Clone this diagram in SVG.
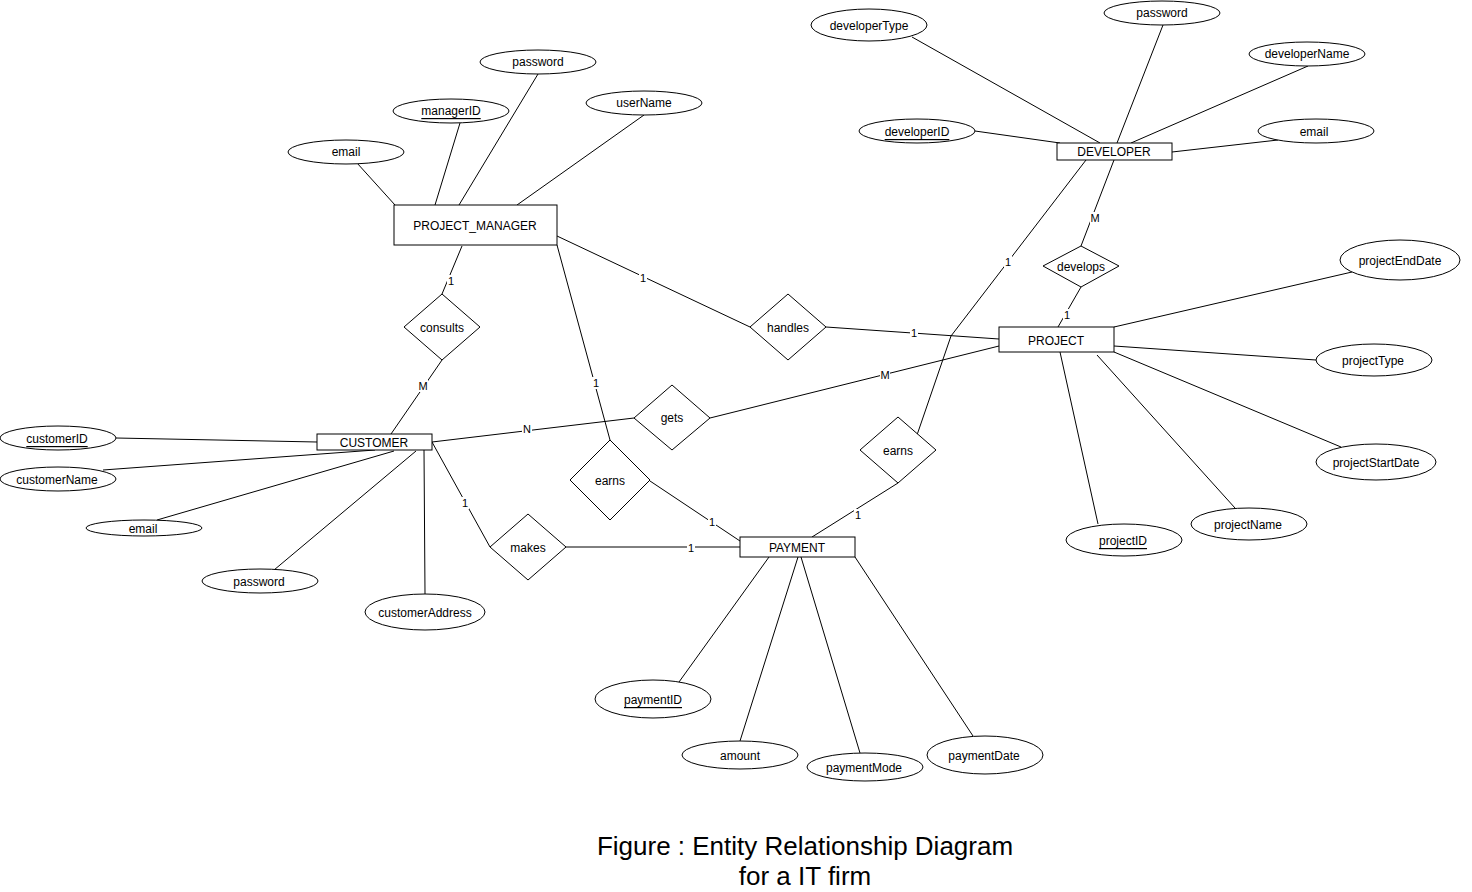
<svg xmlns="http://www.w3.org/2000/svg" width="1472" height="892" viewBox="0 0 1472 892">
<style>
text{font-family:"Liberation Sans",Arial,sans-serif;font-size:12px;fill:#000;text-anchor:middle;dominant-baseline:central}
.e rect,.e ellipse,.r polygon{fill:#fff;stroke:#000;stroke-width:1}
.c line,.c polyline{stroke:#000;stroke-width:1;fill:none}
.c rect{fill:#fff;stroke:none}
.lbl{font-size:11px}
.u{text-decoration:underline}
.cap{font-size:26px}
</style>
<rect width="1472" height="892" fill="#fff"/>
<g id="connectors" class="c">
<line x1="357" y1="163" x2="395" y2="205"/>
<line x1="460" y1="123" x2="435" y2="205"/>
<line x1="538" y1="74" x2="459" y2="205"/>
<line x1="644" y1="115" x2="517" y2="205"/>
<line x1="912" y1="37" x2="1100" y2="143"/>
<line x1="1163" y1="25" x2="1117" y2="143"/>
<line x1="1308" y1="66" x2="1131" y2="143"/>
<line x1="975" y1="131" x2="1060" y2="143"/>
<line x1="1278" y1="140" x2="1172" y2="152"/>
<line x1="1352" y1="272" x2="1114" y2="327"/>
<line x1="1316" y1="360" x2="1114" y2="346"/>
<line x1="1341" y1="447" x2="1114" y2="352"/>
<line x1="1235" y1="508" x2="1097" y2="355"/>
<line x1="1098" y1="524" x2="1060" y2="352"/>
<line x1="116" y1="438" x2="317" y2="442"/>
<line x1="103" y1="470" x2="375" y2="450"/>
<line x1="157" y1="520" x2="394" y2="451"/>
<line x1="274" y1="570" x2="416" y2="451"/>
<line x1="425" y1="594" x2="424" y2="450"/>
<line x1="679" y1="682" x2="769" y2="557"/>
<line x1="740" y1="741" x2="798" y2="557"/>
<line x1="860" y1="753" x2="801" y2="557"/>
<line x1="973" y1="736" x2="855" y2="557"/>
<line x1="462" y1="246" x2="442" y2="294"/>
<line x1="442" y1="360" x2="391" y2="434"/>
<line x1="557" y1="236" x2="750" y2="327"/>
<line x1="826" y1="327" x2="999" y2="339"/>
<line x1="557" y1="245" x2="610" y2="440"/>
<line x1="650" y1="481" x2="740" y2="541"/>
<line x1="432" y1="442" x2="634" y2="418"/>
<line x1="710" y1="418" x2="999" y2="346"/>
<line x1="432" y1="442" x2="490" y2="547"/>
<line x1="566" y1="547" x2="740" y2="547"/>
<line x1="1114" y1="160" x2="1081" y2="246"/>
<line x1="1081" y1="287" x2="1058" y2="327"/>
<polyline points="1086,160 951,336 917,435"/>
<line x1="898" y1="483" x2="812" y2="537"/>
<rect x="447" y="275" width="8" height="12"/><text class="lbl" x="451" y="281">1</text>
<rect x="418" y="380" width="10" height="12"/><text class="lbl" x="423" y="386">M</text>
<rect x="639" y="272" width="8" height="12"/><text class="lbl" x="643" y="278">1</text>
<rect x="910" y="327" width="8" height="12"/><text class="lbl" x="914" y="333">1</text>
<rect x="592" y="377" width="8" height="12"/><text class="lbl" x="596" y="383">1</text>
<rect x="708" y="516" width="8" height="12"/><text class="lbl" x="712" y="522">1</text>
<rect x="522" y="423" width="10" height="12"/><text class="lbl" x="527" y="429">N</text>
<rect x="880" y="369" width="10" height="12"/><text class="lbl" x="885" y="375">M</text>
<rect x="461" y="497" width="8" height="12"/><text class="lbl" x="465" y="503">1</text>
<rect x="687" y="542" width="8" height="12"/><text class="lbl" x="691" y="548">1</text>
<rect x="1090" y="212" width="10" height="12"/><text class="lbl" x="1095" y="218">M</text>
<rect x="1063" y="309" width="8" height="12"/><text class="lbl" x="1067" y="315">1</text>
<rect x="1004" y="256" width="8" height="12"/><text class="lbl" x="1008" y="262">1</text>
<rect x="854" y="509" width="8" height="12"/><text class="lbl" x="858" y="515">1</text>
</g>
<g id="project_manager" class="e"><rect x="394" y="205" width="163" height="40"/><text x="475" y="226">PROJECT_MANAGER</text></g>
<g id="developer" class="e"><rect x="1057" y="143" width="115" height="17"/><text x="1114" y="152">DEVELOPER</text></g>
<g id="customer" class="e"><rect x="317" y="434" width="115" height="16"/><text x="374" y="443">CUSTOMER</text></g>
<g id="project" class="e"><rect x="999" y="327" width="115" height="25"/><text x="1056" y="341">PROJECT</text></g>
<g id="payment" class="e"><rect x="740" y="537" width="115" height="20"/><text x="797" y="548">PAYMENT</text></g>
<g id="consults" class="r"><polygon points="442,294 480,327 442,360 404,327"/><text x="442" y="328">consults</text></g>
<g id="handles" class="r"><polygon points="788,294 826,327 788,360 750,327"/><text x="788" y="328">handles</text></g>
<g id="gets" class="r"><polygon points="672,385 710,418 672,450 634,418"/><text x="672" y="418">gets</text></g>
<g id="earns1" class="r"><polygon points="610,440 650,480 610,520 570,480"/><text x="610" y="481">earns</text></g>
<g id="earns2" class="r"><polygon points="898,417 936,450 898,483 860,450"/><text x="898" y="451">earns</text></g>
<g id="develops" class="r"><polygon points="1081,246 1119,266 1081,287 1043,266"/><text x="1081" y="267">develops</text></g>
<g id="makes" class="r"><polygon points="528,514 566,547 528,580 490,547"/><text x="528" y="548">makes</text></g>
<g id="pm_password" class="e"><ellipse cx="538" cy="62" rx="58" ry="12"/><text x="538" y="62">password</text></g>
<g id="pm_managerID" class="e"><ellipse cx="451" cy="111" rx="58" ry="12"/><text class="u" x="451" y="111">managerID</text></g>
<g id="pm_userName" class="e"><ellipse cx="644" cy="103" rx="58" ry="12"/><text x="644" y="103">userName</text></g>
<g id="pm_email" class="e"><ellipse cx="346" cy="152" rx="58" ry="12"/><text x="346" y="152">email</text></g>
<g id="dev_type" class="e"><ellipse cx="869" cy="25" rx="58" ry="16"/><text x="869" y="26">developerType</text></g>
<g id="dev_password" class="e"><ellipse cx="1162" cy="13" rx="58" ry="12"/><text x="1162" y="13">password</text></g>
<g id="dev_name" class="e"><ellipse cx="1307" cy="54" rx="58" ry="12"/><text x="1307" y="54">developerName</text></g>
<g id="dev_id" class="e"><ellipse cx="917" cy="131" rx="58" ry="12"/><text class="u" x="917" y="132">developerID</text></g>
<g id="dev_email" class="e"><ellipse cx="1316" cy="131" rx="58" ry="12"/><text x="1314" y="132">email</text></g>
<g id="proj_end" class="e"><ellipse cx="1400" cy="260" rx="60" ry="20"/><text x="1400" y="261">projectEndDate</text></g>
<g id="proj_type" class="e"><ellipse cx="1374" cy="360" rx="58" ry="16"/><text x="1373" y="361">projectType</text></g>
<g id="proj_start" class="e"><ellipse cx="1376" cy="462" rx="60" ry="18"/><text x="1376" y="463">projectStartDate</text></g>
<g id="proj_name" class="e"><ellipse cx="1249" cy="524" rx="58" ry="16"/><text x="1248" y="525">projectName</text></g>
<g id="proj_id" class="e"><ellipse cx="1124" cy="540" rx="58" ry="16"/><text class="u" x="1123" y="541">projectID</text></g>
<g id="cust_id" class="e"><ellipse cx="58" cy="438" rx="58" ry="12"/><text class="u" x="57" y="439">customerID</text></g>
<g id="cust_name" class="e"><ellipse cx="58" cy="479" rx="58" ry="12"/><text x="57" y="480">customerName</text></g>
<g id="cust_email" class="e"><ellipse cx="144" cy="528" rx="58" ry="8"/><text x="143" y="529">email</text></g>
<g id="cust_password" class="e"><ellipse cx="260" cy="581" rx="58" ry="12"/><text x="259" y="582">password</text></g>
<g id="cust_address" class="e"><ellipse cx="425" cy="612" rx="60" ry="18"/><text x="425" y="613">customerAddress</text></g>
<g id="pay_id" class="e"><ellipse cx="653" cy="699" rx="58" ry="19"/><text class="u" x="653" y="700">paymentID</text></g>
<g id="pay_amount" class="e"><ellipse cx="740" cy="755" rx="58" ry="14"/><text x="740" y="756">amount</text></g>
<g id="pay_mode" class="e"><ellipse cx="865" cy="767" rx="58" ry="14"/><text x="864" y="768">paymentMode</text></g>
<g id="pay_date" class="e"><ellipse cx="985" cy="755" rx="58" ry="19"/><text x="984" y="756">paymentDate</text></g>
<text class="cap" x="805" y="846">Figure : Entity Relationship Diagram</text>
<text class="cap" x="805" y="876">for a IT firm</text>
</svg>
